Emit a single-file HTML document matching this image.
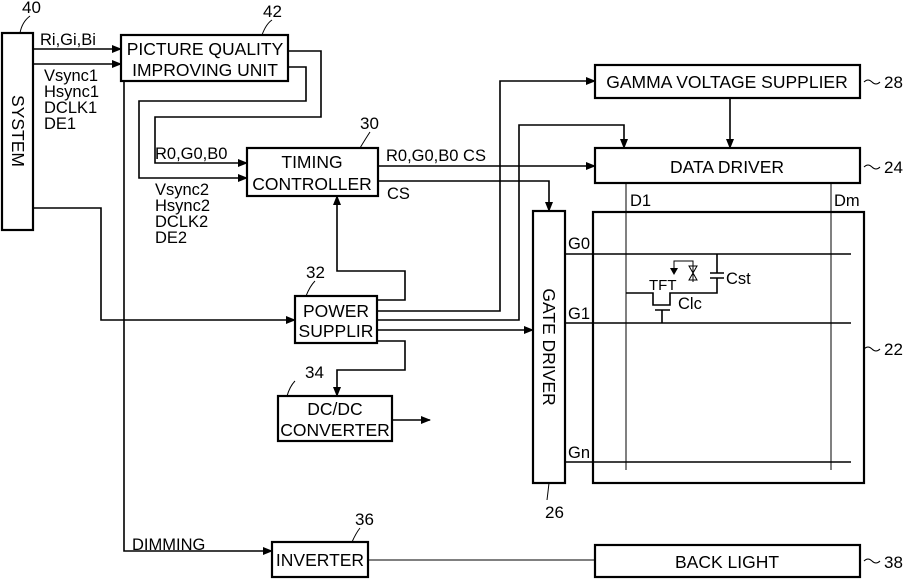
<!DOCTYPE html>
<html><head><meta charset="utf-8"><style>
html,body{margin:0;padding:0;background:#fff;}
svg{display:block;}
text{font-family:"Liberation Sans",sans-serif;fill:#000;}
</style></head><body>
<svg width="906" height="580" viewBox="0 0 906 580" xmlns="http://www.w3.org/2000/svg">
<defs>
<marker id="a" markerWidth="10" markerHeight="8" refX="9" refY="4" orient="auto" markerUnits="userSpaceOnUse">
<path d="M0,0 L10,4 L0,8 z" fill="#000"/></marker>
</defs>
<g fill="none" stroke="#000" stroke-width="1.6">
<rect x="2" y="33" width="31" height="197" stroke-width="2.2"/>
<rect x="121" y="35" width="167" height="46" stroke-width="2.2"/>
<rect x="247" y="148" width="131" height="48" stroke-width="2.2"/>
<rect x="295" y="296" width="82" height="47" stroke-width="2.2"/>
<rect x="278" y="396" width="114" height="45" stroke-width="2.2"/>
<rect x="595" y="65" width="265" height="33" stroke-width="2.2"/>
<rect x="595" y="148" width="265" height="35" stroke-width="2.2"/>
<rect x="533" y="211" width="32" height="272" stroke-width="2.2"/>
<rect x="593" y="212" width="271" height="271" stroke-width="2.2"/>
<rect x="272" y="542" width="96" height="35" stroke-width="2.2"/>
<rect x="595" y="545" width="265" height="32" stroke-width="2.2"/>
<path d="M33,49 H121" marker-end="url(#a)"/>
<path d="M33,64 H121" marker-end="url(#a)"/>
<path d="M288,51 H321 V117 H155 V163 H247" marker-end="url(#a)"/>
<path d="M288,67 H306 V101 H139 V178 H247" marker-end="url(#a)"/>
<path d="M378,166 H595" marker-end="url(#a)"/>
<path d="M378,181 H549 V211" marker-end="url(#a)"/>
<path d="M33,208 H101 V320 H295" marker-end="url(#a)"/>
<path d="M124,81 V551 H272" marker-end="url(#a)"/>
<path d="M377,300 H405 V271 H337 V196" marker-end="url(#a)"/>
<path d="M377,311 H500 V81 H595" marker-end="url(#a)"/>
<path d="M377,320 H519 V125 H624 V148" marker-end="url(#a)"/>
<path d="M377,330 H533" marker-end="url(#a)"/>
<path d="M377,341 H405 V370 H337 V396" marker-end="url(#a)"/>
<path d="M392,420 H430" marker-end="url(#a)"/>
<path d="M730,98 V148" marker-end="url(#a)"/>
<path d="M368,560 H595" stroke-width="1"/>
<path d="M626,183 V470 M831,183 V470" stroke-width="1"/>
<path d="M565,254 H851 M565,323 H851 M565,462 H851"/>
<path d="M626,293 H653 V305 H670 V293 H717 V278" stroke-width="1.6"/>
<path d="M710,278 H724 M710,273 H724 M717,273 V254" stroke-width="1.6"/>
<path d="M655,310 H670 M662,310 V323" stroke-width="1.6"/>
<path d="M674,268 V261 H693 V282" stroke-width="1"/>
<path d="M689,266 H697 L689,280 H697 Z" stroke-width="1"/>
<path d="M20,33 Q22,22 30,16" stroke-width="1"/>
<path d="M262,35 Q266,24 272,20" stroke-width="1"/>
<path d="M360,148 Q366,138 370,132" stroke-width="1"/>
<path d="M306,296 Q310,286 315,281" stroke-width="1"/>
<path d="M287,396 Q290,386 295,381" stroke-width="1"/>
<path d="M352,542 Q356,533 360,528" stroke-width="1"/>
<path d="M549,483 Q548,492 547,500" stroke-width="1"/>
<path d="M864,82 q4,-4 8,0 t8,0 M864,167 q4,-4 8,0 t8,0 M864,349 q4,-4 8,0 t8,0 M864,561 q4,-4 8,0 t8,0" stroke-width="1"/>
</g>
<polygon points="670,268 678,268 674,275" fill="#000"/>
<g font-size="17">
<text x="22" y="13">40</text>
<text x="263" y="17">42</text>
<text x="360" y="129">30</text>
<text x="306" y="278">32</text>
<text x="305" y="378">34</text>
<text x="355" y="525">36</text>
<text x="545" y="518">26</text>
<text x="884" y="88">28</text>
<text x="884" y="173">24</text>
<text x="884" y="355">22</text>
<text x="884" y="568">38</text>
</g>
<g font-size="16.5">
<text x="40" y="45">Ri,Gi,Bi</text>
<text x="44" y="81">Vsync1</text>
<text x="44" y="97">Hsync1</text>
<text x="44" y="113">DCLK1</text>
<text x="44" y="129">DE1</text>
<text x="155" y="159">R0,G0,B0</text>
<text x="155" y="195">Vsync2</text>
<text x="155" y="211">Hsync2</text>
<text x="155" y="227">DCLK2</text>
<text x="155" y="243">DE2</text>
<text x="386" y="161">R0,G0,B0 CS</text>
<text x="387" y="199">CS</text>
<text x="132" y="550">DIMMING</text>
<text x="568" y="249">G0</text>
<text x="568" y="319">G1</text>
<text x="568" y="458">Gn</text>
<text x="630" y="206">D1</text>
<text x="834" y="206">Dm</text>
<text x="726" y="284">Cst</text>
<text x="678" y="309">Clc</text>
</g>
<text x="649" y="290" font-size="15">TFT</text>
<g font-size="17.5" text-anchor="middle">
<text x="205" y="55">PICTURE QUALITY</text>
<text x="205" y="76">IMPROVING UNIT</text>
<text x="312" y="168">TIMING</text>
<text x="312" y="190">CONTROLLER</text>
<text x="336" y="317">POWER</text>
<text x="336" y="337">SUPPLIR</text>
<text x="335" y="415">DC/DC</text>
<text x="335" y="436">CONVERTER</text>
<text x="727" y="88">GAMMA VOLTAGE SUPPLIER</text>
<text x="727" y="173">DATA DRIVER</text>
<text x="320" y="566">INVERTER</text>
<text x="727" y="568">BACK LIGHT</text>
<text transform="translate(12,131) rotate(90)">SYSTEM</text>
<text transform="translate(543,347) rotate(90)">GATE DRIVER</text>
</g>
</svg>
</body></html>
